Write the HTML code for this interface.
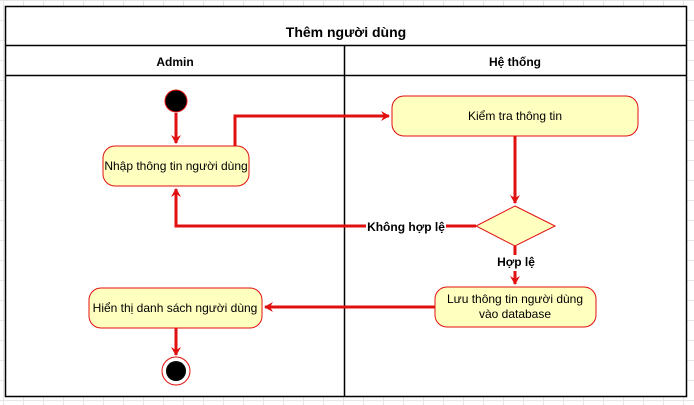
<!DOCTYPE html>
<html><head><meta charset="utf-8"><style>
body{margin:0;width:694px;height:405px;overflow:hidden;background:#fff;
background-image:linear-gradient(#e6e6e6 1px,transparent 1px),linear-gradient(90deg,#e6e6e6 1px,transparent 1px);background-size:20px 20px;background-position:3px 0}
svg{position:absolute;left:0;top:0}
text{font-family:"Liberation Sans",sans-serif}
</style></head><body>
<svg width="694" height="405" viewBox="0 0 694 405">
<defs><marker id="a" markerWidth="10" markerHeight="10" refX="8" refY="5" orient="auto" markerUnits="userSpaceOnUse"><path d="M0,0 L9,5 L0,10 L3,5 Z" fill="#e01010"/></marker></defs>
<rect x="5.5" y="6.5" width="681" height="390" fill="#fff" stroke="#000" stroke-width="1.5"/>
<line x1="5" y1="45.5" x2="687" y2="45.5" stroke="#000" stroke-width="1.5"/>
<line x1="5" y1="75.5" x2="687" y2="75.5" stroke="#000" stroke-width="1.5"/>
<line x1="344.5" y1="45" x2="344.5" y2="397" stroke="#000" stroke-width="1.5"/>
<text x="346" y="37" font-size="14" font-weight="bold" text-anchor="middle">Thêm người dùng</text>
<text x="175" y="66" font-size="12" font-weight="bold" text-anchor="middle">Admin</text>
<text x="515" y="66" font-size="12" font-weight="bold" text-anchor="middle">Hệ thống</text>
<g stroke="#e01010" stroke-width="3" fill="none">
<path d="M176 113 V143" marker-end="url(#a)"/>
<path d="M235 146 V116 H389" marker-end="url(#a)"/>
<path d="M515 136 V203" marker-end="url(#a)"/>
<path d="M476 226 H176 V189" marker-end="url(#a)"/>
<path d="M515 246 V284" marker-end="url(#a)"/>
<path d="M435 307 H265" marker-end="url(#a)"/>
<path d="M176 328 V355" marker-end="url(#a)"/>
</g>
<circle cx="176" cy="101" r="11" fill="#000" stroke="#e01010" stroke-width="1"/>
<g fill="#ffffc0" stroke="#e01010" stroke-width="1">
<rect x="103" y="146" width="146" height="40" rx="12"/>
<rect x="392" y="96" width="246" height="40" rx="12"/>
<polygon points="515,206 555,226 515,246 476,226"/>
<rect x="435" y="287" width="161" height="40" rx="12"/>
<rect x="89" y="288" width="173" height="40" rx="12"/>
</g>
<circle cx="176" cy="371" r="14" fill="#fff" stroke="#e01010" stroke-width="1"/>
<circle cx="176" cy="371" r="10" fill="#000"/>
<g font-size="12" text-anchor="middle" fill="#000">
<text x="176" y="170">Nhập thông tin người dùng</text>
<text x="515" y="120">Kiểm tra thông tin</text>
<text x="515" y="303">Lưu thông tin người dùng</text>
<text x="515" y="318">vào database</text>
<text x="175" y="312">Hiển thị danh sách người dùng</text>
</g>
<rect x="366" y="218" width="80" height="16" fill="#fff"/>
<text x="406" y="231" font-size="12" font-weight="bold" text-anchor="middle">Không hợp lệ</text>
<rect x="498" y="255" width="36" height="16" fill="#fff"/>
<text x="516" y="266" font-size="12" font-weight="bold" text-anchor="middle">Hợp lệ</text>
</svg>
</body></html>
